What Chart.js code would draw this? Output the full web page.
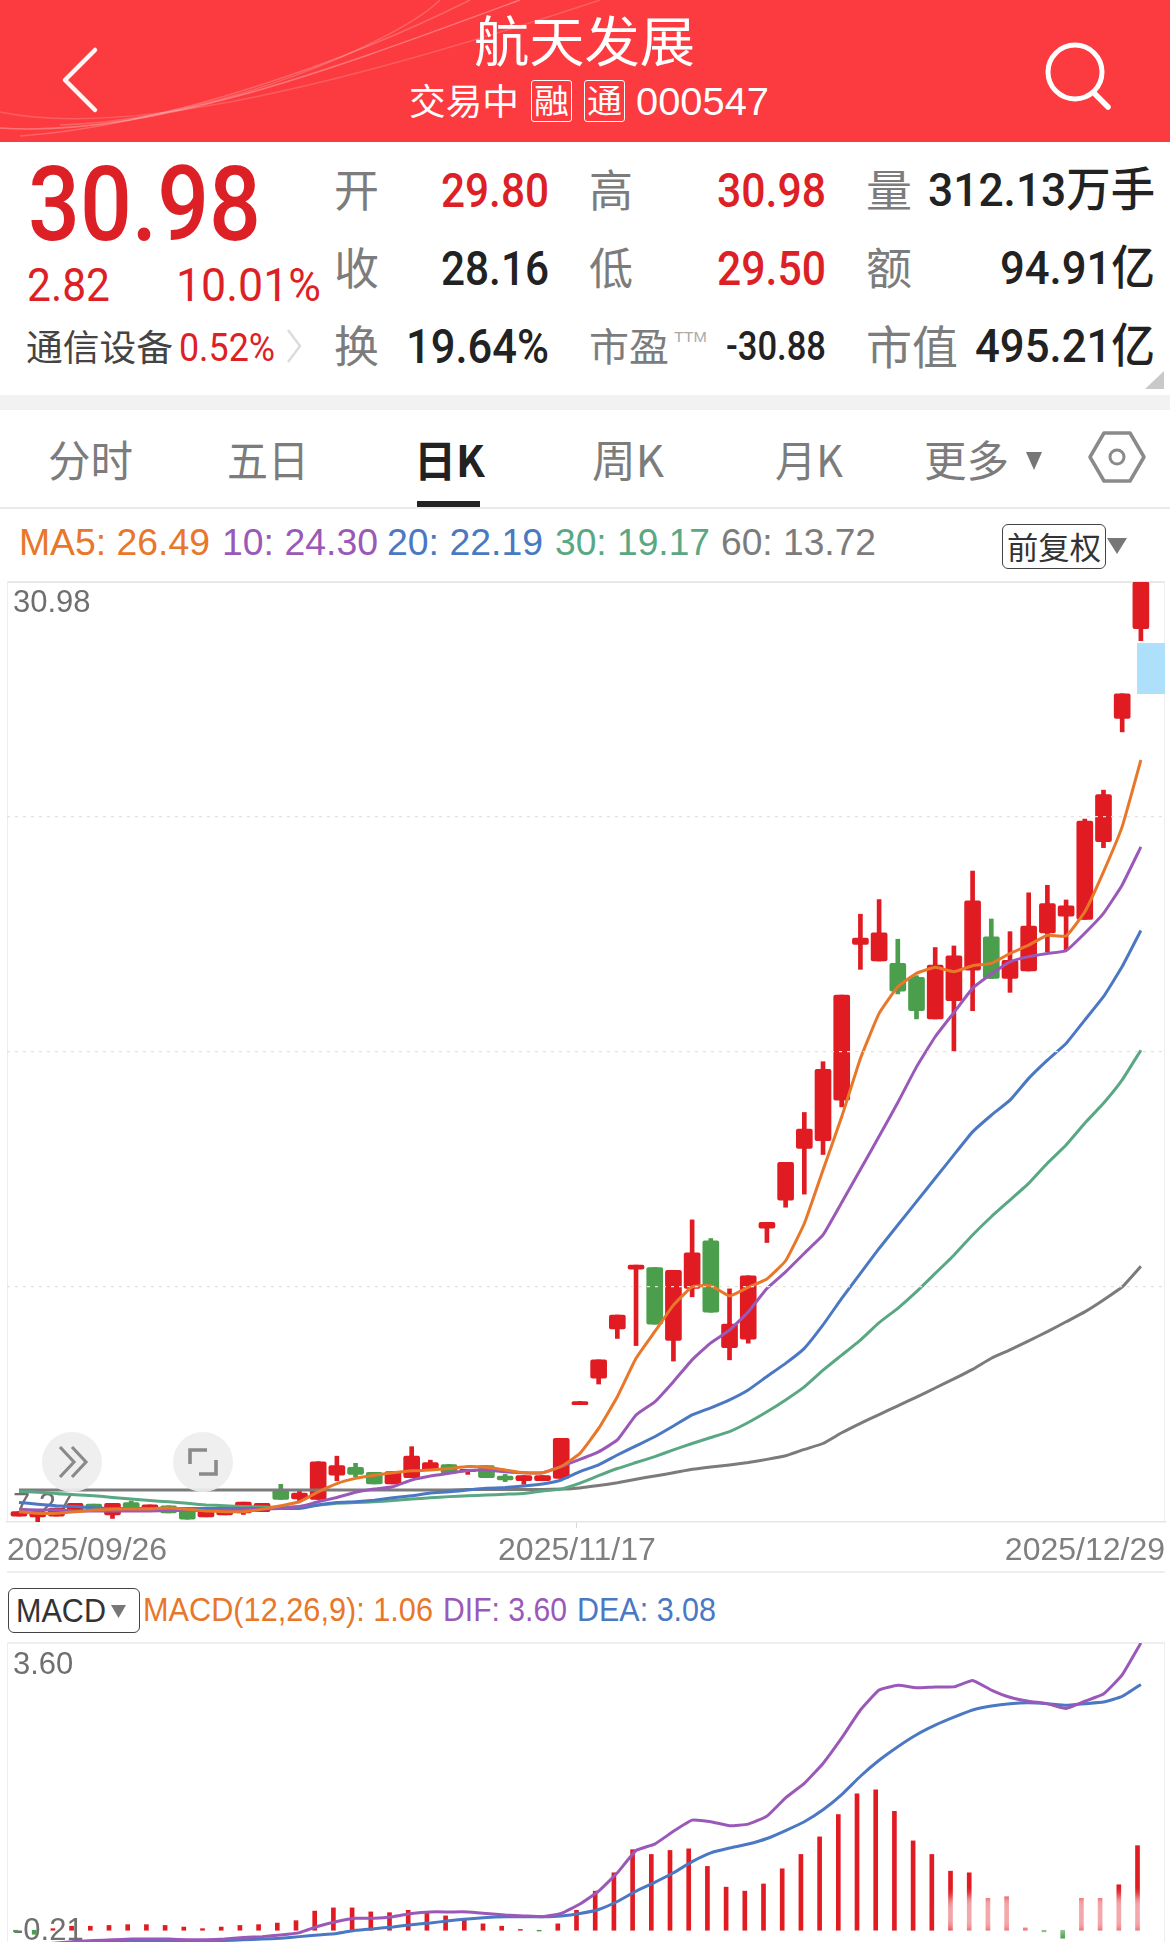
<!DOCTYPE html>
<html lang="zh">
<head>
<meta charset="utf-8">
<style>
html,body{margin:0;padding:0;width:1170px;height:1942px;overflow:hidden;background:#fff;font-family:"Liberation Sans","Noto Sans CJK SC",sans-serif}
.a{position:absolute}
canvas{position:absolute;left:0}
.t{position:absolute;white-space:nowrap;line-height:0;transform-origin:left center}
</style>
<script src="https://cdn.jsdelivr.net/npm/chart.js@4/dist/chart.umd.min.js"></script>
</head>
<body>
<div class="a" style="left:0;top:0;width:1170px;height:142px;background:#fb3b3f"></div>
<svg class="a" style="left:0;top:0" width="1170" height="142" fill="none" stroke="#fff">
<path d="M0 128 C150 138 330 70 520 0" stroke-opacity=".3" stroke-width="1.5"/>
<path d="M20 136 C170 125 350 60 470 0" stroke-opacity=".22" stroke-width="1.5"/>
<path d="M60 125 C220 120 400 40 440 0" stroke-opacity=".2" stroke-width="1.5"/>
<path d="M0 112 C110 135 300 100 600 0" stroke-opacity=".18" stroke-width="1.5"/>
<path d="M95 51 L65 81 L95 111" stroke="#fff" stroke-width="4.5" stroke-linecap="round" stroke-linejoin="round" opacity=".95" transform="translate(0,-1)"/>
<circle cx="1075" cy="72" r="27" stroke-width="5"/>
<path d="M1094 93 L1108 107" stroke-width="5.5" stroke-linecap="round"/>
</svg>
<div class="a" style="left:531px;top:80px;width:41px;height:42px;border:1.5px solid #fff;border-radius:3px;box-sizing:border-box"></div>
<div class="a" style="left:584px;top:80px;width:41px;height:42px;border:1.5px solid #fff;border-radius:3px;box-sizing:border-box"></div>
<div class="a" style="left:0;top:395px;width:1170px;height:15px;background:#f2f2f2"></div>
<div class="a" style="left:0;top:507px;width:1170px;height:2px;background:#eaeaea"></div>
<div class="a" style="left:417px;top:501px;width:63px;height:6px;background:#222"></div>
<svg class="a" style="left:0;top:0;pointer-events:none" width="1170" height="600">
<polygon points="1164,371 1164,389 1145,389" fill="#c9c9c9"/>
<path d="M288 330 L300 346 L288 362" fill="none" stroke="#dcdcdc" stroke-width="2.5"/>
<polygon points="1026,452 1042,452 1034,470" fill="#777"/>
<polygon points="1104,433 1130,433 1144,457 1130,481 1104,481 1090,457" fill="none" stroke="#8a8a8a" stroke-width="3.5" stroke-linejoin="round"/>
<circle cx="1117" cy="457" r="7" fill="none" stroke="#8a8a8a" stroke-width="3"/>
<polygon points="1107,538 1127,538 1117,554" fill="#777"/>
</svg>
<div class="a" style="left:1002px;top:524px;width:104px;height:45px;border:1.5px solid #444;border-radius:6px;box-sizing:border-box;background:#fff"></div>
<div class="a" style="left:7px;top:581px;width:1158px;height:2px;background:#e8e8e8"></div>
<div class="a" style="left:7px;top:581px;width:1px;height:941px;background:#eeeeee"></div>
<div class="a" style="left:1164px;top:581px;width:1px;height:941px;background:#eeeeee"></div>
<div class="a" style="left:7px;top:1571px;width:1158px;height:2px;background:#eeeeee"></div>
<div class="a" style="left:7px;top:1642px;width:1158px;height:2px;background:#eeeeee"></div>
<div class="a" style="left:7px;top:1642px;width:1px;height:300px;background:#eeeeee"></div>
<div class="a" style="left:1164px;top:1642px;width:1px;height:300px;background:#eeeeee"></div>
<canvas id="kline" width="1170" height="996" style="top:576px;width:1170px;height:996px"></canvas>
<canvas id="macdChart" width="1170" height="304" style="top:1643px;width:1170px;height:304px"></canvas>
<div class="a" style="left:1137px;top:643px;width:28px;height:51px;background:#aee0fb"></div>
<svg class="a" style="left:0;top:1420px" width="260" height="90" fill="none">
<circle cx="72" cy="42" r="30" fill="#eeeeee" fill-opacity=".92"/>
<circle cx="203" cy="42" r="30" fill="#eeeeee" fill-opacity=".92"/>
<path d="M60 27 L74 42 L60 57 M72 27 L86 42 L72 57" stroke="#8a8a8a" stroke-width="3.2"/>
<path d="M207 30 L190 30 L190 44 M199 54 L216 54 L216 40" stroke="#8a8a8a" stroke-width="3.6"/>
</svg>
<div class="a" style="left:8px;top:1588px;width:132px;height:45px;border:1.5px solid #444;border-radius:6px;box-sizing:border-box"></div>
<svg class="a" style="left:0;top:1600px" width="140" height="24"><polygon points="111,5 126,5 118.5,18" fill="#777"/></svg>
<div class="a" style="left:940px;top:1896px;width:220px;height:36px;border-radius:18px;background:rgba(255,255,255,.62);filter:blur(5px)"></div>

<script>
const dates = ["2025/09/26","2025/09/29","2025/09/30","2025/10/09","2025/10/10","2025/10/13","2025/10/14","2025/10/15","2025/10/16","2025/10/17","2025/10/20","2025/10/21","2025/10/22","2025/10/23","2025/10/24","2025/10/27","2025/10/28","2025/10/29","2025/10/30","2025/10/31","2025/11/03","2025/11/04","2025/11/05","2025/11/06","2025/11/07","2025/11/10","2025/11/11","2025/11/12","2025/11/13","2025/11/14","2025/11/17","2025/11/18","2025/11/19","2025/11/20","2025/11/21","2025/11/24","2025/11/25","2025/11/26","2025/11/27","2025/11/28","2025/12/01","2025/12/02","2025/12/03","2025/12/04","2025/12/05","2025/12/08","2025/12/09","2025/12/10","2025/12/11","2025/12/12","2025/12/15","2025/12/16","2025/12/17","2025/12/18","2025/12/19","2025/12/22","2025/12/23","2025/12/24","2025/12/25","2025/12/26","2025/12/29"];
const opens = [7.42,7.40,7.42,7.53,7.72,7.45,7.76,7.57,7.68,7.57,7.40,7.45,7.50,7.53,8.06,7.85,7.84,8.45,8.65,8.52,8.23,8.39,8.58,8.72,8.54,8.69,8.43,8.31,8.31,8.37,10.23,10.90,12.14,13.65,13.69,11.85,13.16,14.36,11.67,11.88,14.68,15.39,16.69,16.89,17.91,21.84,21.42,21.36,21.01,19.96,20.42,21.19,22.03,20.98,21.17,22.13,22.55,22.47,24.43,27.54,29.80];
const closes = [7.53,7.53,7.62,7.74,7.57,7.74,7.57,7.70,7.50,7.34,7.62,7.66,7.77,7.74,7.84,8.00,8.79,8.69,8.47,8.23,8.54,8.93,8.77,8.50,8.60,8.39,8.33,8.44,8.44,9.38,10.31,11.36,12.49,13.75,12.26,13.62,14.06,12.56,12.26,13.48,14.83,16.34,17.18,18.69,20.56,22.00,22.13,20.66,20.17,21.32,21.55,22.94,20.98,21.44,22.30,22.87,22.81,24.95,25.62,28.16,30.98];
const highs = [7.53,7.53,7.62,7.74,7.72,7.74,7.80,7.70,7.68,7.57,7.62,7.66,7.77,7.74,8.22,8.05,8.79,8.93,8.75,8.52,8.54,9.17,8.83,8.72,8.60,8.69,8.47,8.44,8.44,9.38,10.31,11.36,12.49,13.75,13.69,13.62,14.89,14.42,13.15,13.48,14.83,16.34,17.60,18.88,20.56,22.60,22.97,21.97,21.05,21.76,21.80,23.69,22.48,22.16,23.14,23.33,22.96,25.00,25.73,28.16,30.98];
const lows = [7.42,7.26,7.42,7.53,7.57,7.36,7.57,7.57,7.50,7.34,7.40,7.45,7.46,7.53,7.84,7.78,7.84,8.31,8.41,8.23,8.23,8.39,8.58,8.50,8.47,8.39,8.29,8.22,8.31,8.37,10.23,10.75,11.90,11.72,12.26,11.33,12.95,12.56,11.36,11.78,14.32,15.21,15.54,16.54,17.74,21.21,21.42,20.59,19.96,19.96,19.15,20.17,20.98,20.63,21.17,21.65,21.70,22.47,24.28,27.20,29.50];
const ma5 = [7.53,7.49,7.49,7.53,7.57,7.59,7.60,7.60,7.62,7.59,7.55,7.53,7.53,7.59,7.68,7.78,8.03,8.24,8.37,8.45,8.51,8.56,8.58,8.62,8.67,8.65,8.58,8.51,8.51,8.67,9.00,9.63,10.43,11.40,12.07,12.74,13.20,13.23,12.97,13.19,13.40,13.86,14.80,16.15,17.49,18.96,20.10,20.77,21.11,21.26,21.15,21.30,21.36,21.61,21.82,22.07,22.05,22.66,23.67,24.81,26.49];
const ma10 = [7.59,7.57,7.57,7.55,7.55,7.55,7.55,7.55,7.56,7.56,7.56,7.57,7.58,7.60,7.61,7.66,7.78,7.89,8.02,8.10,8.16,8.33,8.43,8.50,8.57,8.58,8.54,8.51,8.51,8.67,8.85,9.04,9.34,9.97,10.30,10.81,11.36,11.79,12.11,12.57,13.16,13.58,14.05,14.51,15.33,16.16,17.00,17.85,18.75,19.51,20.12,20.73,21.09,21.40,21.53,21.61,21.68,22.12,22.62,23.34,24.30];
const ma20 = [7.76,7.72,7.68,7.66,7.63,7.61,7.61,7.61,7.61,7.61,7.61,7.61,7.61,7.61,7.61,7.61,7.70,7.76,7.78,7.82,7.88,7.93,8.00,8.03,8.08,8.12,8.14,8.18,8.23,8.33,8.54,8.71,8.96,9.19,9.42,9.69,9.97,10.15,10.35,10.60,10.94,11.27,11.65,12.24,12.91,13.54,14.17,14.76,15.35,15.94,16.53,17.11,17.53,17.91,18.46,18.92,19.34,19.93,20.52,21.28,22.19];
const ma30 = [8.04,8.02,7.99,7.96,7.93,7.89,7.85,7.81,7.78,7.74,7.70,7.68,7.66,7.65,7.64,7.66,7.70,7.74,7.76,7.78,7.81,7.85,7.88,7.91,7.93,7.95,7.97,7.99,8.05,8.10,8.25,8.44,8.62,8.77,8.92,9.09,9.25,9.40,9.55,9.78,10.05,10.35,10.68,11.10,11.48,11.86,12.30,12.66,13.08,13.54,14.00,14.51,14.97,15.39,15.81,16.32,16.78,17.33,17.83,18.42,19.17];
const ma60 = [8.08,8.08,8.08,8.08,8.08,8.08,8.08,8.08,8.08,8.08,8.08,8.08,8.08,8.08,8.08,8.08,8.08,8.08,8.08,8.08,8.08,8.08,8.08,8.08,8.09,8.09,8.09,8.09,8.09,8.10,8.13,8.19,8.26,8.35,8.43,8.51,8.60,8.66,8.71,8.77,8.85,8.94,9.10,9.25,9.52,9.76,9.98,10.20,10.42,10.65,10.88,11.12,11.40,11.61,11.84,12.07,12.32,12.57,12.87,13.20,13.72];
const macd = [-0.02,-0.05,0.02,0.05,0.05,0.06,0.07,0.07,0.06,0.04,0.02,0.04,0.06,0.07,0.09,0.12,0.24,0.28,0.28,0.23,0.22,0.25,0.23,0.18,0.15,0.08,0.05,0.01,-0.01,0.08,0.25,0.49,0.72,1.01,0.95,1.00,1.02,0.80,0.54,0.49,0.58,0.77,0.95,1.17,1.45,1.71,1.76,1.49,1.12,0.95,0.74,0.72,0.40,0.42,0.03,-0.02,-0.10,0.40,0.40,0.57,1.06];
const dif = [-0.20,-0.18,-0.16,-0.14,-0.13,-0.12,-0.11,-0.11,-0.11,-0.12,-0.12,-0.11,-0.09,-0.08,-0.06,-0.03,0.05,0.11,0.15,0.15,0.17,0.21,0.23,0.23,0.23,0.21,0.19,0.18,0.17,0.21,0.33,0.49,0.72,1.00,1.08,1.24,1.38,1.36,1.31,1.33,1.43,1.66,1.84,2.09,2.41,2.76,3.01,3.07,3.04,3.05,3.05,3.13,3.01,2.92,2.87,2.84,2.78,2.87,2.96,3.20,3.60];
const dea = [-0.19,-0.18,-0.17,-0.15,-0.14,-0.14,-0.14,-0.14,-0.14,-0.14,-0.14,-0.13,-0.12,-0.11,-0.10,-0.08,-0.06,-0.04,0.00,0.02,0.04,0.07,0.09,0.12,0.14,0.16,0.17,0.17,0.17,0.18,0.21,0.26,0.36,0.49,0.60,0.72,0.86,0.97,1.03,1.08,1.15,1.25,1.36,1.51,1.70,1.93,2.13,2.30,2.45,2.57,2.67,2.76,2.81,2.84,2.85,2.84,2.82,2.84,2.86,2.93,3.08];
const priceRange = [7.27, 30.98];
const priceLabelRange = [7.27, 31.13];
const priceGrid = [13.20, 19.13, 25.05];
const macdRange = [-0.21, 3.60];
const macdLabelRange = [-0.21, 3.69];
const maNames = ["MA5","10","20","30","60"];

const RED="#e01b22", GRN="#4b9e4b";
const C={ma5:"#e8772a",ma10:"#9a59b8",ma20:"#4a78c2",ma30:"#5aa883",ma60:"#7b7b7b",txt:"#222",red:"#dd1f26",gray:"#7c7c7c"};
const CN='"Noto Sans CJK SC","Liberation Sans",sans-serif', LAT='"Liberation Sans","Noto Sans CJK SC",sans-serif', ROB='Roboto,"Noto Sans CJK SC",sans-serif';

function T(s,l,r,cy,size,color,weight,font){
  const d=document.createElement('div');d.className='t';d.textContent=s;
  d.style.cssText+=`left:${l}px;top:${cy}px;font-size:${size}px;color:${color};font-weight:${weight||400};font-family:${font||CN};`;
  document.body.appendChild(d);
  const w=d.getBoundingClientRect().width;
  d.style.transform=`scaleX(${(r-l)/w})`;
}
// header
T("航天发展",474,695,39,54,"#fff",400,CN);
T("交易中",409,519,99,36,"#fff",400,CN);
T("融",534,569,99,33,"#fff",400,CN);
T("通",587,622,99,33,"#fff",400,CN);
T("000547",636,769,102,39,"#fff",400,LAT);
// quote block
T("30.98",28,261,205,103,C.red,500,ROB);
T("2.82",27,110,285,47,C.red,400,ROB);
T("10.01%",176,321,285,47,C.red,400,ROB);
T("通信设备",26,173,345,36,"#444",400,CN);
T("0.52%",179,275,348,38,C.red,400,ROB);
[["开",188],["收",266],["换",344]].forEach(a=>T(a[0],334,379,a[1],44,C.gray,400,CN));
T("29.80",441,549,191,48,C.red,500,ROB);
T("28.16",441,549,269,48,C.txt,500,ROB);
T("19.64%",406,549,347,48,C.txt,500,ROB);
[["高",188],["低",266]].forEach(a=>T(a[0],589,633,a[1],44,C.gray,400,CN));
T("市盈",589,669,344,39,C.gray,400,CN);
T("TTM",674,707,337,15,"#aaa",400,LAT);
T("30.98",717,826,191,48,C.red,500,ROB);
T("29.50",717,826,269,48,C.red,500,ROB);
T("-30.88",726,826,347,40,C.txt,500,ROB);
[["量",188],["额",266]].forEach(a=>T(a[0],866,912,a[1],44,C.gray,400,CN));
T("市值",866,958,344,46,C.gray,400,CN);
T("312.13万手",928,1155,190,47,C.txt,500,ROB);
T("94.91亿",1000,1155,268,47,C.txt,500,ROB);
T("495.21亿",975,1155,346,47,C.txt,500,ROB);
// tabs
T("分时",48,133,458,43,C.gray,400,CN);
T("五日",227,309,458,43,C.gray,400,CN);
T("日K",414,485,458,43,"#222",700,CN);
T("周K",592,664,458,43,C.gray,400,CN);
T("月K",775,843,458,43,C.gray,400,CN);
T("更多",924,1009,458,43,C.gray,400,CN);
// MA legend
T(`${maNames[0]}: ${ma5[60].toFixed(2)}`,19,210,543,37,C.ma5,400,LAT);
T(`${maNames[1]}: ${ma10[60].toFixed(2)}`,222,378,543,37,C.ma10,400,LAT);
T(`${maNames[2]}: ${ma20[60].toFixed(2)}`,387,543,543,37,C.ma20,400,LAT);
T(`${maNames[3]}: ${ma30[60].toFixed(2)}`,555,710,543,37,C.ma30,400,LAT);
T(`${maNames[4]}: ${ma60[60].toFixed(2)}`,721,876,543,37,C.gray,400,LAT);
T("前复权",1007,1101,546,31,"#333",400,CN);
// macd legend
T("MACD",16,106,1611,33,"#333",400,LAT);
T("MACD(12,26,9): 1.06",143,433,1610,33,C.ma5,400,LAT);
T("DIF: 3.60",443,567,1610,33,C.ma10,400,LAT);
T("DEA: 3.08",577,716,1610,33,C.ma20,400,LAT);

Chart.defaults.font.family='"Liberation Sans"';
const pts=a=>a.map((v,i)=>({x:i,y:v}));
const line=(data,color,order,w)=>({type:'line',data:pts(data),borderColor:color,borderWidth:w||3,pointRadius:0,tension:0.12,order});
const noMargin=s=>{s.width=0;s.paddingTop=0;s.paddingBottom=0;s.paddingLeft=0;s.paddingRight=0;};
const labelAxis=(range,vals,align)=>({
  position:'left',min:range[0],max:range[1],
  grid:{display:false,drawTicks:false},border:{display:false},
  afterBuildTicks:s=>{s.ticks=vals.map(v=>({value:v}));},
  afterFit:noMargin,
  ticks:{mirror:true,padding:6,align,color:"#6f6f6f",font:{size:31},callback:v=>v.toFixed(2)}
});
const X0=-0.642, X1=61.29;
new Chart(document.getElementById('kline'),{
  data:{datasets:[
    line(ma5,C.ma5,1),line(ma10,C.ma10,2),line(ma20,C.ma20,3),line(ma30,C.ma30,4),line(ma60,C.ma60,5),
    {type:'bar',grouped:false,order:6,barThickness:16,borderRadius:2,borderSkipped:false,
      data:opens.map((o,i)=>({x:i,y:[o,closes[i]]})),
      backgroundColor:closes.map((c,i)=>c>=opens[i]?RED:GRN)},
    {type:'bar',grouped:false,order:7,barThickness:4,
      data:lows.map((l,i)=>({x:i,y:[l,highs[i]]})),
      backgroundColor:closes.map((c,i)=>c>=opens[i]?RED:GRN)}
  ]},
  options:{responsive:false,animation:false,devicePixelRatio:1,events:[],
    layout:{padding:{top:6,left:7,right:5,bottom:0}},
    plugins:{legend:{display:false},tooltip:{enabled:false}},
    scales:{
      x:{type:'linear',offset:false,min:X0,max:X1,
        afterBuildTicks:s=>{s.ticks=[{value:X0},{value:29.84},{value:X1}];},
        afterFit:s=>{s.height=50;s.paddingLeft=0;s.paddingRight=0;},
        grid:{offset:false,drawOnChartArea:false,drawTicks:true,tickLength:6,color:c=>c.index===1?"#d8d8d8":"rgba(0,0,0,0)"},
        border:{display:true,color:"#e6e6e6",width:1.5},
        ticks:{align:'inner',autoSkip:false,maxRotation:0,padding:4,color:"#7f7f7f",font:{size:32},
          callback:v=>v<0?dates[0]:(v>60?dates[60]:dates[30])}},
      y:{position:'left',min:priceRange[0],max:priceRange[1],
        afterBuildTicks:s=>{s.ticks=priceGrid.map(v=>({value:v}));},
        afterFit:noMargin,
        grid:{color:"#e2e2e2",lineWidth:1.2,drawTicks:false,z:1},border:{display:false,dash:[3,5]},
        ticks:{display:false}},
      yHi:labelAxis(priceLabelRange,[priceLabelRange[0]+23.71],'start'),
      yLo:labelAxis(priceRange,[priceRange[0]],'end')
    }}
});
new Chart(document.getElementById('macdChart'),{
  data:{datasets:[
    line(dif,C.ma10,1,3),line(dea,C.ma20,2,3),
    {type:'bar',grouped:false,order:3,barThickness:4,xAxisID:'xb',
      data:macd.map((v,i)=>({x:i,y:[0,v]})),
      backgroundColor:macd.map(v=>v>=0?RED:GRN)}
  ]},
  options:{responsive:false,animation:false,devicePixelRatio:1,events:[],
    layout:{padding:{top:0,left:7,right:5,bottom:0}},
    plugins:{legend:{display:false},tooltip:{enabled:false}},
    scales:{
      x:{type:'linear',display:false,offset:false,grid:{offset:false},min:X0,max:X1},
      xb:{type:'linear',display:false,offset:false,grid:{offset:false},min:-0.4545,max:61.47},
      y:{position:'left',min:macdRange[0],max:macdRange[1],display:false},
      yHi:labelAxis(macdLabelRange,[macdRange[1]],'start'),
      yLo:labelAxis(macdRange,[macdRange[0]],'end')
    }}
});
</script>
</body>
</html>
